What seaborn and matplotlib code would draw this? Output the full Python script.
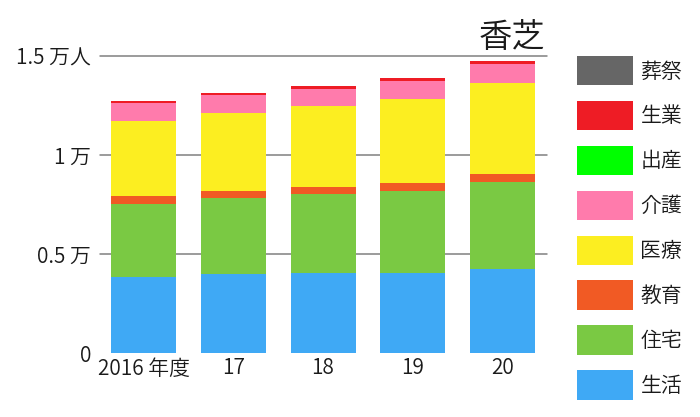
import matplotlib
matplotlib.use("Agg")
import matplotlib.pyplot as plt
import matplotlib.patches as mpatches
import seaborn as sns
import pandas as pd
import numpy as np

years = ["2016 年度", "17", "18", "19", "20"]
# values in 万人
seikatsu = [0.384, 0.401, 0.404, 0.408, 0.424]   # 生活
jutaku   = [0.372, 0.384, 0.401, 0.414, 0.443]   # 住宅
kyoiku   = [0.036, 0.035, 0.037, 0.039, 0.040]   # 教育
iryo     = [0.381, 0.394, 0.406, 0.424, 0.458]   # 医療
kaigo    = [0.093, 0.089, 0.087, 0.090, 0.096]   # 介護
shussan  = [0.000, 0.000, 0.000, 0.000, 0.000]   # 出産
seigyo   = [0.009, 0.012, 0.017, 0.017, 0.015]   # 生業
sosai    = [0.000, 0.000, 0.000, 0.000, 0.000]   # 葬祭

categories = ["生活", "住宅", "教育", "医療", "介護", "出産", "生業", "葬祭"]
series = [seikatsu, jutaku, kyoiku, iryo, kaigo, shussan, seigyo, sosai]
colors = ["#3fa9f5", "#7ac943", "#f15a24", "#fcee21", "#ff7bac", "#00ff00", "#ee1c25", "#666666"]

ytick_vals = [0, 0.5, 1, 1.5]
ytick_labels = ["0", "0.5 万", "1 万", "1.5 万人"]
title = "香芝"

sns.set_theme(style="white")
plt.rcParams["font.family"] = ["Noto Sans CJK JP", "DejaVu Sans"]
plt.rcParams["font.weight"] = 350

fig = plt.figure(figsize=(7.0, 4.17), dpi=100)
W, H = 700, 417
ax = fig.add_axes([100 / W, (H - 353.3) / H, 447 / W, (353.3 - 56.3) / H])

bottom = np.zeros(len(years))
for cat, vals, col in zip(categories, series, colors):
    df = pd.DataFrame({"year": years, "value": vals})
    sns.barplot(data=df, x="year", y="value", order=years, color=col,
                bottom=bottom.copy(), width=0.725, linewidth=0,
                saturation=1, ax=ax, zorder=3)
    bottom += np.array(vals)

ax.set_xlim(-0.49, 4.5)
ax.set_ylim(0, 1.5)
ax.set_yticks(ytick_vals)
ax.set_yticklabels(ytick_labels)
ax.set_xlabel("")
ax.set_ylabel("")
for s in ax.spines.values():
    s.set_visible(False)
ax.yaxis.grid(True, color="#808080", linewidth=1.1, zorder=0)
ax.set_axisbelow(True)
ax.get_ygridlines()[0].set_visible(False)
for gl in ax.get_ygridlines():
    gl.set_clip_on(False)
ax.tick_params(axis="y", length=0, pad=6.5, labelsize=15, labelcolor="#1a1a1a")
ax.tick_params(axis="x", length=0, pad=3, labelsize=15, labelcolor="#1a1a1a")

fig.text(545 / W, (H - 47) / H, title, ha="right", va="baseline",
         fontsize=24, color="#1a1a1a")

handles = [mpatches.Patch(facecolor=c, edgecolor="none", label=l)
           for l, c in zip(categories[::-1], colors[::-1])]
leg = fig.legend(handles=handles, loc="upper left",
                 bbox_to_anchor=(577 / W, (H - 56) / H),
                 frameon=False, fontsize=15, handlelength=2.7,
                 handleheight=1.8, labelspacing=0.74, handletextpad=0.34,
                 borderpad=0, borderaxespad=0)
for t in leg.get_texts():
    t.set_color("#1a1a1a")

fig.savefig("out.png", dpi=100)
